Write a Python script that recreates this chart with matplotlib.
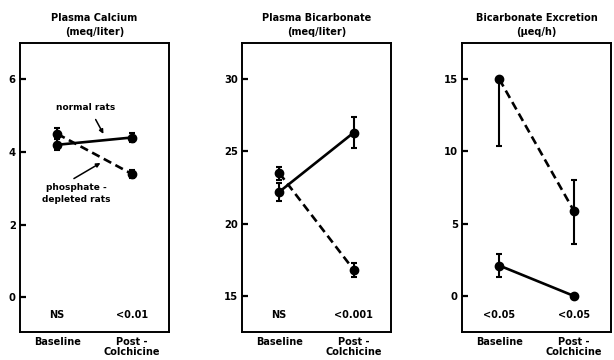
import numpy as np
import matplotlib
matplotlib.use("Agg")
import matplotlib.pyplot as plt

# ------------------------------
# Data
# ------------------------------
phases = ['Baseline', 'Post -\nColchicine']
titles = ['Plasma Calcium\n(meq/liter)',
          'Plasma Bicarbonate\n(meq/liter)',
          'Bicarbonate Excretion\n(\u03bceq/h)']

calcium_normal = [4.2, 4.4]
calcium_normal_err = [0.15, 0.12]
calcium_depleted = [4.5, 3.4]
calcium_depleted_err = [0.15, 0.12]

bicarb_normal = [22.2, 26.3]
bicarb_normal_err = [0.6, 1.1]
bicarb_depleted = [23.5, 16.8]
bicarb_depleted_err = [0.45, 0.5]

excr_normal = [2.1, 0.0]
excr_normal_err = [[0.8, 0.0], [0.8, 0.0]]
excr_depleted = [15.0, 5.9]
excr_depleted_err = [[4.6, 2.3], [0.0, 2.1]]

pvalues = [['NS', '<0.01'], ['NS', '<0.001'], ['<0.05', '<0.05']]
yticks = [[0, 2, 4, 6], [15, 20, 25, 30], [0, 5, 10, 15]]
ylims = [(-0.95, 7.0), (12.5, 32.5), (-2.5, 17.5)]

# ------------------------------
# Plot appearance
# ------------------------------
matplotlib.rcParams.update({'font.family': 'DejaVu Sans',
                            'font.weight': 'bold',
                            'font.size': 7})

fig = plt.figure(figsize=(6.14, 3.6), dpi=100)
lefts = [20 / 614, 242 / 614, 462 / 614]
bottom, height = 28 / 360, 289 / 360
width = 149 / 614

series = [
    (calcium_normal, calcium_normal_err, calcium_depleted, calcium_depleted_err),
    (bicarb_normal, bicarb_normal_err, bicarb_depleted, bicarb_depleted_err),
    (excr_normal, excr_normal_err, excr_depleted, excr_depleted_err),
]

xx = np.arange(len(phases))
for i, (left, (yn, en, yd, ed)) in enumerate(zip(lefts, series)):
    ax = fig.add_axes([left, bottom, width, height])
    for y, e, ls in [(yn, en, '-'), (yd, ed, (0, (3.2, 1.8)))]:
        ax.plot(xx, y, color='black', lw=1.9, ls=ls, zorder=2)
        ax.errorbar(xx, y, yerr=e, fmt='o', color='black', ms=6,
                    elinewidth=1.5, capsize=2.5, capthick=1.5, zorder=3)
    ax.set_xlim(-0.5, 1.5)
    ax.set_ylim(ylims[i])
    ax.set_yticks(yticks[i])
    ax.set_xticks([])
    ax.tick_params(axis='y', direction='in', length=4, width=1.6, pad=3,
                   labelsize=7.2)
    for sp in ax.spines.values():
        sp.set_linewidth(1.4)
    # p-values along the bottom of the box
    lo = ylims[i][0]
    ytxt = lo + (ylims[i][1] - lo) * 0.06
    for x, p in zip(xx, pvalues[i]):
        ax.text(x, ytxt, p, ha='center', va='center', fontsize=7)
    # phase labels under the box
    for x, lab in zip(xx, phases):
        ax.text(x, -0.018, lab, transform=ax.get_xaxis_transform(),
                ha='center', va='top', fontsize=7, linespacing=0.95)
    ax.set_title(titles[i], fontsize=7, fontweight='bold', pad=6,
                 linespacing=1.5)
    if i == 0:
        ax.annotate('normal rats', xy=(0.62, 4.5), xytext=(0.38, 5.23),
                    ha='center', va='center', fontsize=6.5,
                    arrowprops=dict(arrowstyle='-|>', color='black', lw=1.1,
                                    mutation_scale=6,
                                    shrinkA=4, shrinkB=0,
                                    relpos=(0.6, 0.0)))
        ax.annotate('phosphate -\ndepleted rats', xy=(0.58, 3.7),
                    xytext=(0.25, 2.85), ha='center', va='center',
                    fontsize=6.5, linespacing=1.4,
                    arrowprops=dict(arrowstyle='-|>', color='black', lw=1.1,
                                    mutation_scale=6,
                                    shrinkA=3, shrinkB=0,
                                    relpos=(0.35, 1.0)))

fig.savefig('out.png', dpi=100)
plt.close('all')
